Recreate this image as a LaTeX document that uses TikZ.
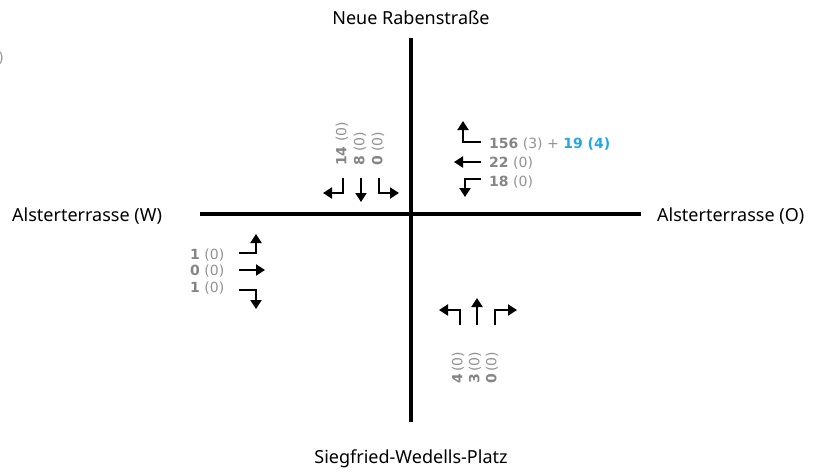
\documentclass[tikz,border=0pt]{standalone}
\usepackage{fontspec}
\setmainfont{DejaVu Sans}
\newfontfamily\roadfont{Noto Sans}
\usetikzlibrary{arrows.meta}
\definecolor{cntgray}{HTML}{858585}
\definecolor{pargray}{HTML}{929292}
\definecolor{cntblue}{HTML}{1FA7E9}

\tikzset{
  road/.style={line width=4pt, line cap=butt},
  lanearrow/.style={line width=2pt, -{Triangle[length=9pt,width=11pt]}},
  roadname/.style={font=\roadfont\fontsize{18}{21}\selectfont, inner sep=0pt},
  count/.style={font=\fontsize{14}{16}\selectfont, inner sep=0pt, text=pargray},
}
\newcommand{\cnt}[2]{\textbf{\textcolor{cntgray}{#1}}\ (#2)}
\newcommand{\cntt}[2]{\textbf{\textcolor{cntgray}{#1}}\,(#2)}

\begin{document}
\begin{tikzpicture}[x=1pt,y=-1pt]
  \useasboundingbox (0,0) rectangle (814,472);

  % roads
  \draw[road] (411,38) -- (411,422);
  \draw[road] (200,214) -- (641,214);

  % street names
  \node[roadname] (nname) at (411,18) {Neue Rabenstraße};
  \node[roadname] (sname) at (411,459) {Siegfried-Wedells-Platz};
  \node[roadname, anchor=west] (wname) at (12,216) {Alsterterrasse (W)};
  \node[roadname, anchor=west] (ename) at (657,216) {Alsterterrasse (O)};

  % remnant of a label at the left edge
  \node[count, anchor=east] (edge) at (4,58) {)};

  % north approach
  \node[count, rotate=90, anchor=west] (n1) at (342,166) {\cnt{14}{0}};
  \node[count, rotate=90, anchor=west] (n2) at (360,166) {\cnt{8}{0}};
  \node[count, rotate=90, anchor=west] (n3) at (378,166) {\cnt{0}{0}};
  \draw[lanearrow] (343,178) -- (343,193) -- (323,193);
  \draw[lanearrow] (361,178) -- (361,202);
  \draw[lanearrow] (379,178) -- (379,193) -- (399,193);

  % east approach
  \node[count, anchor=west] (e1) at (489,144) {\cnt{156}{3} + \textbf{\textcolor{cntblue}{19 (4)}}};
  \node[count, anchor=west] (e2) at (489,163) {\cnt{22}{0}};
  \node[count, anchor=west] (e3) at (489,182) {\cnt{18}{0}};
  \draw[lanearrow] (481,142) -- (463,142) -- (463,121);
  \draw[lanearrow] (481,162) -- (454,162);
  \draw[lanearrow] (481,179) -- (465,179) -- (465,197);

  % west approach
  \node[count, anchor=west] (w1) at (190,255) {\cnt{1}{0}};
  \node[count, anchor=west] (w2) at (190,271) {\cnt{0}{0}};
  \node[count, anchor=west] (w3) at (190,288) {\cnt{1}{0}};
  \draw[lanearrow] (239,253) -- (256,253) -- (256,234);
  \draw[lanearrow] (239,270) -- (265,270);
  \draw[lanearrow] (239,290) -- (256,290) -- (256,309);

  % south approach
  \node[count, rotate=90, anchor=west] (s1) at (458,384) {\cntt{4}{0}};
  \node[count, rotate=90, anchor=west] (s2) at (475,384) {\cntt{3}{0}};
  \node[count, rotate=90, anchor=west] (s3) at (492,384) {\cntt{0}{0}};
  \draw[lanearrow] (460,325) -- (460,310) -- (439,310);
  \draw[lanearrow] (477,325) -- (477,298);
  \draw[lanearrow] (495,325) -- (495,310) -- (517,310);
\end{tikzpicture}
\end{document}
